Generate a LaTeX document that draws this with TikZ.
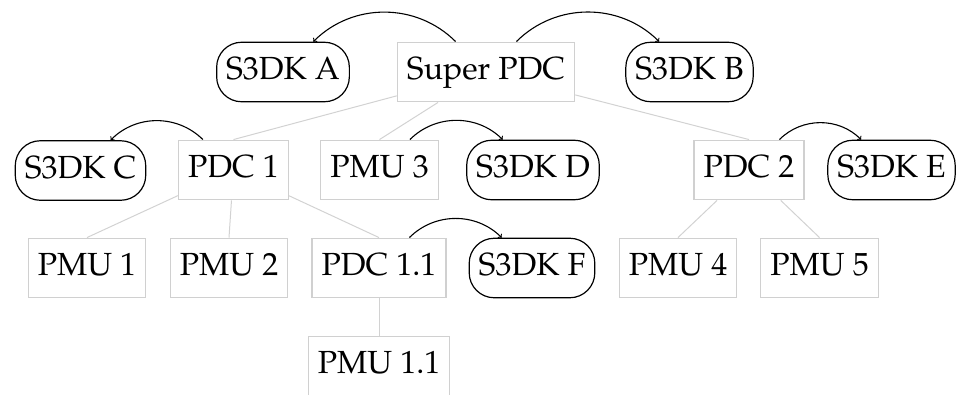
\documentclass[tikz,border=0pt]{standalone}
\usepackage[T1]{fontenc}
\usepackage{mathpazo}
\definecolor{boxgray}{RGB}{208,208,208}
\definecolor{linegray}{RGB}{210,210,210}
\begin{document}
\begin{tikzpicture}[x=1pt,y=-1pt,
  font=\fontsize{32}{38.4}\selectfont,
  base/.style={text height=27pt,text depth=11.5pt,inner xsep=9.5pt,inner ysep=10.5pt},
  graybox/.style={base,draw=boxgray,line width=1.4pt},
  sdk/.style={base,draw=black,line width=1.2pt,rounded corners=25pt},
  tline/.style={draw=linegray,line width=1pt},
  arr/.style={->,line width=1.1pt}]
\useasboundingbox (0,0) rectangle (960,394);
% row 1
\node[sdk] (sa) at (283,72) {S3DK A};
\node[graybox] (super) at (486,72) {Super PDC};
\node[sdk] (sb) at (689.5,72) {S3DK B};
% row 2
\node[sdk] (sc) at (80.5,170.5) {S3DK C};
\node[graybox] (pdc1) at (233.5,170) {PDC 1};
\node[graybox] (pmu3) at (379.5,170) {PMU 3};
\node[sdk] (sd) at (533,170) {S3DK D};
\node[graybox] (pdc2) at (749,170) {PDC 2};
\node[sdk] (se) at (891.5,170) {S3DK E};
% row 3
\node[graybox] (pmu1) at (87,268) {PMU 1};
\node[graybox] (pmu2) at (229,268) {PMU 2};
\node[graybox] (pdc11) at (379,268) {PDC 1.1};
\node[sdk] (sf) at (532,268) {S3DK F};
\node[graybox] (pmu4) at (678,268) {PMU 4};
\node[graybox] (pmu5) at (819.5,268) {PMU 5};
% row 4
\node[graybox] (pmu11) at (379,366) {PMU 1.1};
% tree lines
\draw[tline] (super) -- (pdc1.north);
\draw[tline] (super) -- (pmu3.north);
\draw[tline] (super) -- (pdc2.north);
\draw[tline] (pdc1) -- (pmu1.north);
\draw[tline] (pdc1) -- (pmu2.north);
\draw[tline] (pdc1) -- (pdc11.north);
\draw[tline] (pdc11) -- (pmu11.north);
\draw[tline] (pdc2) -- (pmu4.north);
\draw[tline] (pdc2) -- (pmu5.north);
% arrows
\draw[arr] (super) to[bend right=45] (sa);
\draw[arr] (super) to[bend left=45] (sb);
\draw[arr] (pdc1) to[bend right=45] (sc);
\draw[arr] (pmu3) to[bend left=45] (sd);
\draw[arr] (pdc2) to[bend left=45] (se);
\draw[arr] (pdc11) to[bend left=45] (sf);
\end{tikzpicture}
\end{document}
